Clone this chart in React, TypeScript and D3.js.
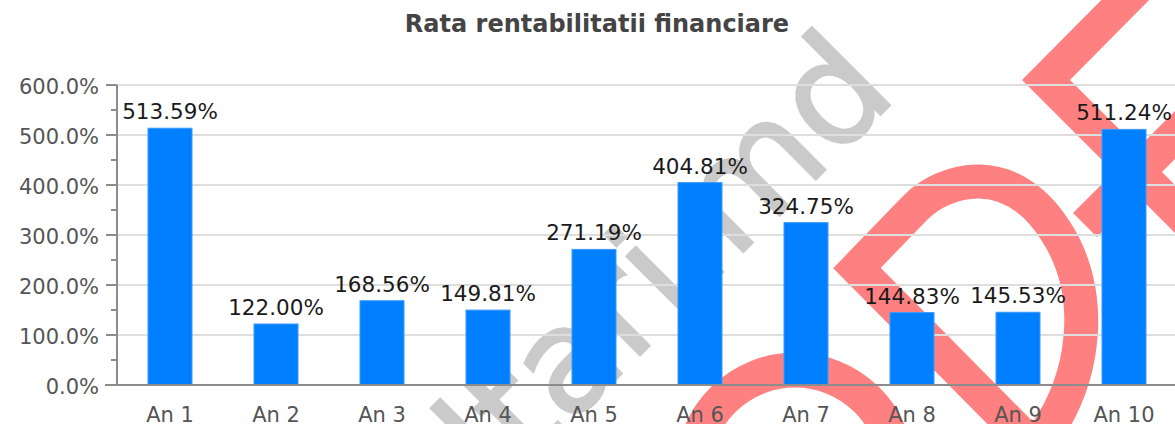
import React from 'react';
import * as d3 from 'd3';

const categories = ['An 1', 'An 2', 'An 3', 'An 4', 'An 5', 'An 6', 'An 7', 'An 8', 'An 9', 'An 10'];
const values = [513.59, 122.0, 168.56, 149.81, 271.19, 404.81, 324.75, 144.83, 145.53, 511.24];
const yTickValues = [0, 100, 200, 300, 400, 500, 600];
const yMinorTickValues = [50, 150, 250, 350, 450, 550];
const chartTitle = 'Rata rentabilitatii financiare';
const watermarkText = 'ltari.md';

const W = 1175;
const H = 424;
const FONT = "'DejaVu Sans', Verdana, sans-serif";

// decorative background logo strokes (watermark)
const logoPaths = [
  'M 1145,-20 L 1046,80 L 1220,254',
  'M 1085,225 L 1235,75',
  'M 857,268 L 915,208 C 945,178 1010,160 1055,230 C 1095,290 1090,380 1035,448 Z',
];

export default function App() {
  const x = d3
    .scaleBand<string>()
    .domain(categories)
    .range([117, 1177])
    .paddingInner(0.585)
    .paddingOuter(0.2925);
  const y = d3.scaleLinear().domain([0, 600]).range([385, 85]);
  const fmtTick = (v: number) => d3.format('.1f')(v) + '%';
  const fmtVal = (v: number) => d3.format('.2f')(v) + '%';
  const x0 = 117;
  const xEnd = W;

  return (
    <svg
      width={W}
      height={H}
      style={{ position: 'absolute', left: 0, top: 0, display: 'block', background: '#fff' }}
    >
      <rect x={0} y={0} width={W} height={H} fill="#fff" />
      {/* watermark */}
      <g>
        <text
          transform="translate(899,96) rotate(-45)"
          textAnchor="end"
          fontFamily={FONT}
          fontSize={145}
          fill="#cacaca"
          stroke="#cacaca"
          strokeWidth={2.5}
        >
          {watermarkText}
        </text>
        {logoPaths.map((d, i) => (
          <path
            key={i}
            d={d}
            fill="none"
            stroke="#ff8080"
            strokeWidth={34}
            strokeLinejoin="miter"
            strokeMiterlimit={10}
          />
        ))}
        <circle cx={795} cy={472} r={102} fill="none" stroke="#ff8080" strokeWidth={35} />
      </g>
      {/* gridlines */}
      {yTickValues
        .filter((v) => v > 0)
        .map((v) => (
          <line key={'g' + v} x1={x0} x2={xEnd} y1={y(v)} y2={y(v)} stroke="#dedede" strokeWidth={2} />
        ))}
      {/* title */}
      <text
        x={597}
        y={32}
        textAnchor="middle"
        fontFamily={FONT}
        fontWeight="bold"
        fontSize={24}
        fill="#444"
      >
        {chartTitle}
      </text>
      {/* bars */}
      {categories.map((c, i) => (
        <rect
          key={c}
          x={x(c)}
          y={y(values[i])}
          width={x.bandwidth()}
          height={y(0) - y(values[i])}
          fill="#0080ff"
          stroke="#3a9bff"
          strokeWidth={1}
        />
      ))}
      {/* y axis */}
      <line x1={x0} x2={x0} y1={y(600)} y2={y(0)} stroke="#8c8c8c" strokeWidth={2} />
      {yTickValues.map((v) => (
        <g key={'t' + v}>
          <line x1={x0 - 11} x2={x0} y1={y(v)} y2={y(v)} stroke="#8c8c8c" strokeWidth={2} />
          <text
            x={99}
            y={y(v) + 9}
            textAnchor="end"
            fontFamily={FONT}
            fontSize={21}
            fill="#555"
          >
            {fmtTick(v)}
          </text>
        </g>
      ))}
      {yMinorTickValues.map((v) => (
        <line key={'m' + v} x1={x0 - 6} x2={x0} y1={y(v)} y2={y(v)} stroke="#8c8c8c" strokeWidth={2} />
      ))}
      {/* x axis */}
      <line x1={105} x2={xEnd} y1={y(0)} y2={y(0)} stroke="#8c8c8c" strokeWidth={2} />
      {categories.map((c) => (
        <text
          key={'x' + c}
          x={(x(c) as number) + x.bandwidth() / 2}
          y={422}
          textAnchor="middle"
          fontFamily={FONT}
          fontSize={21}
          fill="#555"
        >
          {c}
        </text>
      ))}
      {/* value labels */}
      {categories.map((c, i) => (
        <text
          key={'v' + c}
          x={(x(c) as number) + x.bandwidth() / 2}
          y={y(values[i]) - 9}
          textAnchor="middle"
          fontFamily={FONT}
          fontSize={21.5}
          fill="#1a1a1a"
        >
          {fmtVal(values[i])}
        </text>
      ))}
    </svg>
  );
}
